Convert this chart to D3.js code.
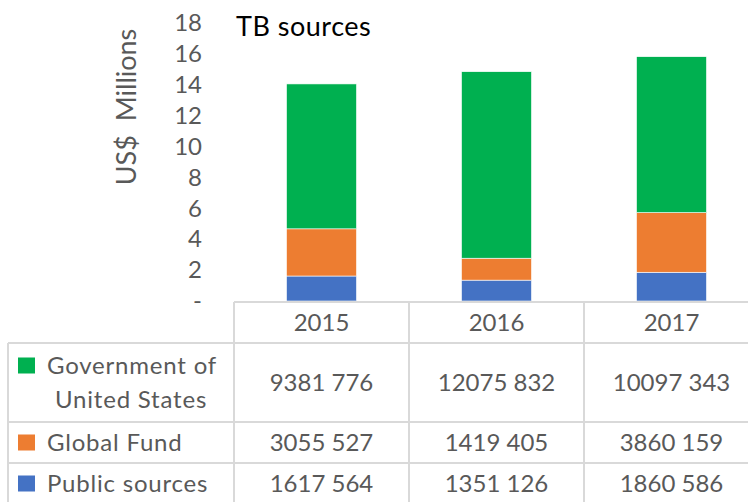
<!DOCTYPE html>
<html>
<head>
<meta charset="utf-8">
<script src="https://cdn.jsdelivr.net/npm/d3@7"></script>
<style>
  html, body { margin: 0; padding: 0; background: #fff; }
  svg { display: block; font-family: Lato, "Open Sans", sans-serif; }
</style>
</head>
<body>
<div id="chart"></div>
<script>
const years = ["2015", "2016", "2017"];
const seriesNames = ["Public sources", "Global Fund", "Government of United States"];
const publicSources = [1617564, 1351126, 1860586];
const globalFund = [3055527, 1419405, 3860159];
const govUS = [9381776, 12075832, 10097343];
const yTicks = [0, 2, 4, 6, 8, 10, 12, 14, 16, 18];

const width = 748, height = 502;
const colors = { "Public sources": "#4472C4", "Global Fund": "#ED7D31", "Government of United States": "#00B050" };

// rows for the stack
const data = years.map((y, i) => ({
  year: y,
  "Public sources": publicSources[i] / 1e6,
  "Global Fund": globalFund[i] / 1e6,
  "Government of United States": govUS[i] / 1e6
}));

const svg = d3.select("#chart")
  .append("svg")
    .attr("width", width)
    .attr("height", height);

const xScale = d3.scaleBand()
  .domain(years)
  .range([234, 759])
  .paddingInner(0.6)
  .paddingOuter(0.3);

const yScale = d3.scaleLinear()
  .domain([0, 18])
  .range([301, 23]);

const series = d3.stack().keys(seriesNames)(data);

series.forEach(serie => {
  svg.selectAll(`.bar-${serie.index}`)
    .data(serie)
    .join("rect")
      .attr("class", `bar-${serie.index}`)
      .attr("x", d => xScale(d.data.year))
      .attr("y", d => yScale(d[1]))
      .attr("width", xScale.bandwidth())
      .attr("height", d => yScale(d[0]) - yScale(d[1]))
      .attr("fill", colors[serie.key])
      .attr("stroke", "#fff")
      .attr("stroke-width", 0.6);
});

// y axis, Excel accounting style: zero shows as "-"
const leftAxis = d3.axisLeft(yScale)
  .tickValues(yTicks)
  .tickSize(0)
  .tickPadding(32)
  .tickFormat(d => d === 0 ? "-" : d);
const gy = svg.append("g")
  .attr("transform", "translate(234, 0)")
  .call(leftAxis);
gy.select(".domain").remove();
gy.selectAll("text")
  .attr("fill", "#595959")
  .style("font-size", "24px")
  .style("font-family", "Lato, sans-serif");

svg.append("text")
  .attr("transform", "translate(126, 107) rotate(-90)")
  .attr("dy", "0.36em")
  .attr("text-anchor", "middle")
  .attr("fill", "#595959")
  .style("font-size", "27px")
  .style("white-space", "pre")
  .text("US$  Millions");

svg.append("text")
  .attr("x", 236)
  .attr("y", 36)
  .attr("fill", "#000")
  .style("font-size", "27px")
  .style("letter-spacing", "0.5px")
  .text("TB sources");

// data table
const locale = d3.formatLocale({ decimal: ".", thousands: " ", grouping: [3, 100], currency: ["", ""] });
const fmt = locale.format(",");

const tableLeft = 8, tableRight = 759;
const rowTops = [302, 343, 422, 463, 504];
const tableRows = [
  { name: ["Government of", "United States"], key: "Government of United States", values: govUS },
  { name: ["Global Fund"], key: "Global Fund", values: globalFund },
  { name: ["Public sources"], key: "Public sources", values: publicSources }
];
const gridColor = "#d9d9d9";
const colEdges = years.map(y => xScale(y) - xScale.step() * xScale.paddingInner() / 2);

const grid = svg.append("g").attr("stroke", gridColor).attr("stroke-width", 2);
// horizontal lines
rowTops.forEach((y, i) => {
  grid.append("line")
    .attr("x1", i === 0 ? 234 : tableLeft).attr("x2", tableRight)
    .attr("y1", y).attr("y2", y);
});
// vertical lines
grid.append("line").attr("x1", tableLeft).attr("x2", tableLeft).attr("y1", rowTops[1]).attr("y2", rowTops[4]);
colEdges.concat([tableRight]).forEach(x => {
  grid.append("line").attr("x1", x).attr("x2", x).attr("y1", rowTops[0]).attr("y2", rowTops[4]);
});

const tableText = svg.append("g")
  .attr("fill", "#595959")
  .style("font-size", "24px");

// header
tableText.selectAll(".hdr")
  .data(years)
  .join("text")
    .attr("class", "hdr")
    .attr("x", d => xScale(d) + xScale.bandwidth() / 2)
    .attr("y", (rowTops[0] + rowTops[1]) / 2)
    .attr("dy", "0.36em")
    .attr("text-anchor", "middle")
    .text(d => d);

tableRows.forEach((row, r) => {
  const top = rowTops[r + 1], bottom = rowTops[r + 2];
  const mid = (top + bottom) / 2;
  const lineH = 34;
  const firstY = mid - (row.name.length - 1) * lineH / 2;
  svg.append("rect")
    .attr("x", 18)
    .attr("y", firstY - 8)
    .attr("width", 17)
    .attr("height", 16)
    .attr("fill", colors[row.key]);
  row.name.forEach((line, k) => {
    tableText.append("text")
      .attr("x", k === 0 ? 47 : 55)
      .attr("y", firstY + k * lineH)
      .attr("dy", "0.36em")
      .style("letter-spacing", "0.8px")
      .text(line);
  });
  tableText.selectAll(`.val-${r}`)
    .data(row.values)
    .join("text")
      .attr("class", `val-${r}`)
      .attr("x", (d, i) => xScale(years[i]) + xScale.bandwidth() / 2)
      .attr("y", mid)
      .attr("dy", "0.36em")
      .attr("text-anchor", "middle")
      .text(d => fmt(d));
});
</script>
</body>
</html>
